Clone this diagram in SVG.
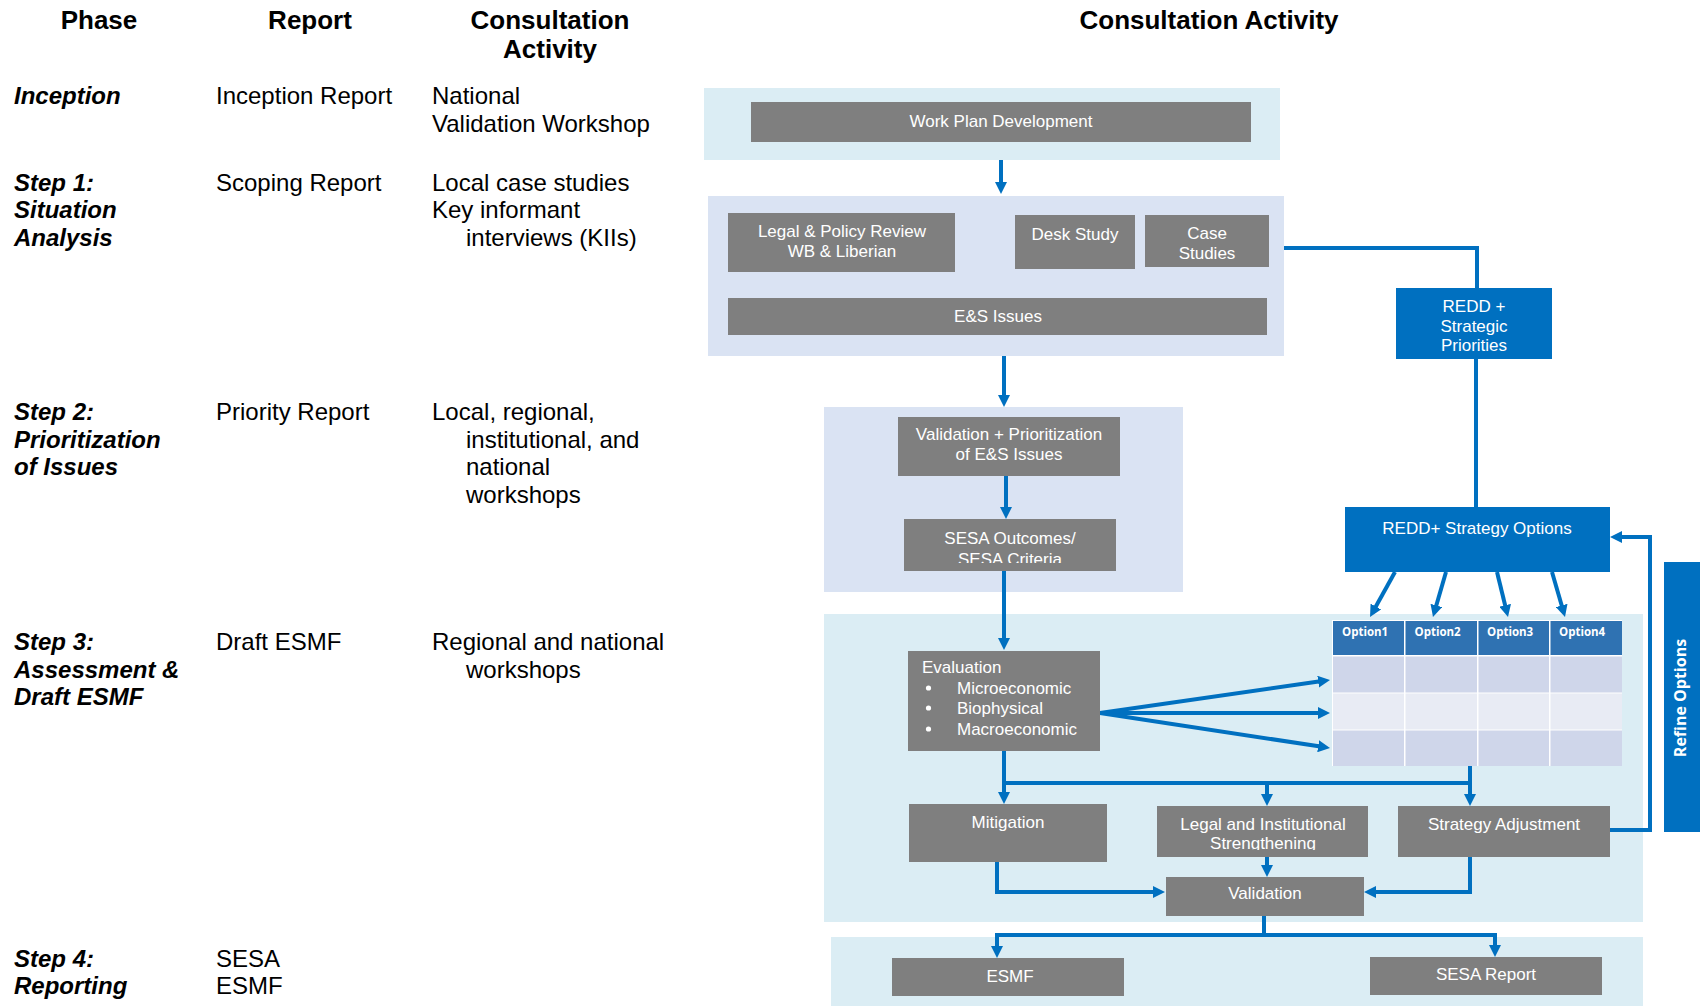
<svg xmlns="http://www.w3.org/2000/svg" width="1700" height="1006" viewBox="0 0 1700 1006">
<style>
.hd{font-family:"Liberation Sans",Arial,sans-serif;font-weight:bold;font-size:26px;fill:#000}
.ph{font-family:"Liberation Sans",Arial,sans-serif;font-weight:bold;font-style:italic;font-size:24px;fill:#000}
.tx{font-family:"Liberation Sans",Arial,sans-serif;font-size:24px;fill:#000}
.bx{fill:#7F7F7F}
.bl{fill:#0070C0}
.bt{font-family:"Liberation Sans",Arial,sans-serif;font-size:17px;fill:#fff;text-anchor:middle}
.bl-t{font-family:"Liberation Sans",Arial,sans-serif;font-size:17px;fill:#fff}
.op{font-family:"Open Sans","Liberation Sans",sans-serif;font-weight:bold;font-size:11.5px;fill:#fff}
.ln{fill:none;stroke:#0070C0;stroke-width:4}
.ar{fill:none;stroke:#0070C0;stroke-width:4;marker-end:url(#ah)}
.bandA{fill:#DBEDF4}
.bandB{fill:#DAE3F3}
.hdr{fill:#2F72B2}
.r1{fill:#CFD6EA}
.r2{fill:#E8EBF4}
</style>
<defs>
<marker id="ah" markerWidth="12" markerHeight="12" refX="4" refY="6" orient="auto" markerUnits="userSpaceOnUse">
<path d="M0,0 L12,6 L0,12 Z" fill="#0070C0"/>
</marker>
<clipPath id="clipSesa"><rect x="904" y="519" width="212" height="44"/></clipPath>
<clipPath id="clipLegal"><rect x="1157" y="806" width="211" height="44"/></clipPath>
</defs>
<rect width="1700" height="1006" fill="#fff"/>

<g id="headers">
<text class="hd" x="99" y="29" text-anchor="middle">Phase</text>
<text class="hd" x="310" y="29" text-anchor="middle">Report</text>
<text class="hd" x="550" y="29" text-anchor="middle">Consultation</text>
<text class="hd" x="550" y="58" text-anchor="middle">Activity</text>
<text class="hd" x="1209" y="29" text-anchor="middle">Consultation Activity</text>
</g>

<g id="row-inception">
<text class="ph" x="14" y="104">Inception</text>
<text class="tx" x="216" y="104">Inception Report</text>
<text class="tx" x="432" y="104">National</text>
<text class="tx" x="432" y="131.5">Validation Workshop</text>
</g>
<g id="row-step1">
<text class="ph" x="14" y="190.5">Step 1:</text>
<text class="ph" x="14" y="218">Situation</text>
<text class="ph" x="14" y="245.5">Analysis</text>
<text class="tx" x="216" y="190.5">Scoping Report</text>
<text class="tx" x="432" y="190.5">Local case studies</text>
<text class="tx" x="432" y="218">Key informant</text>
<text class="tx" x="466" y="245.5">interviews (KIIs)</text>
</g>
<g id="row-step2">
<text class="ph" x="14" y="420">Step 2:</text>
<text class="ph" x="14" y="447.5">Prioritization</text>
<text class="ph" x="14" y="475">of Issues</text>
<text class="tx" x="216" y="420">Priority Report</text>
<text class="tx" x="432" y="420">Local, regional,</text>
<text class="tx" x="466" y="447.5">institutional, and</text>
<text class="tx" x="466" y="475">national</text>
<text class="tx" x="466" y="502.5">workshops</text>
</g>
<g id="row-step3">
<text class="ph" x="14" y="650">Step 3:</text>
<text class="ph" x="14" y="677.5">Assessment &amp;</text>
<text class="ph" x="14" y="705">Draft ESMF</text>
<text class="tx" x="216" y="650">Draft ESMF</text>
<text class="tx" x="432" y="650">Regional and national</text>
<text class="tx" x="466" y="677.5">workshops</text>
</g>
<g id="row-step4">
<text class="ph" x="14" y="966.5">Step 4:</text>
<text class="ph" x="14" y="994">Reporting</text>
<text class="tx" x="216" y="966.5">SESA</text>
<text class="tx" x="216" y="994">ESMF</text>
</g>

<g id="bands">
<rect class="bandA" x="704" y="88" width="576" height="72"/>
<rect class="bandB" x="708" y="196" width="576" height="160"/>
<rect class="bandB" x="824" y="407" width="359" height="185"/>
<rect class="bandA" x="824" y="614" width="819" height="308"/>
<rect class="bandA" x="831" y="937" width="812" height="69"/>
</g>

<g id="refine-options">
<rect class="bl" x="1664" y="562" width="36" height="270"/>
<text transform="translate(1686,698) rotate(-90)" text-anchor="middle" font-family="'Open Sans','Liberation Sans',sans-serif" font-weight="bold" font-size="16" fill="#fff">Refine Options</text>
</g>

<g id="connectors">
<path class="ar" d="M1001,160 V186"/>
<path class="ln" d="M1284,248 H1477 V288"/>
<path class="ar" d="M1004,356 V399"/>
<path class="ar" d="M1006,476 V511"/>
<path class="ar" d="M1004,571 V642"/>
<path class="ln" d="M1476,359 V507"/>
<path class="ar" d="M1395,572 L1373.9,610"/>
<path class="ar" d="M1446,572 L1435.2,609.3"/>
<path class="ar" d="M1497,572 L1506.1,609.2"/>
<path class="ar" d="M1552,572 L1562.8,609.3"/>
<path class="ar" d="M1100,713 L1322.1,681.1"/>
<path class="ar" d="M1100,713 L1322,713"/>
<path class="ar" d="M1100,713 L1322.1,746.8"/>
<path class="ar" d="M1004,751 V796"/>
<path class="ln" d="M1002,783 H1472"/>
<path class="ar" d="M1267,783 V798"/>
<path class="ar" d="M1470,766 V798"/>
<path class="ar" d="M1267,857 V869"/>
<path class="ar" d="M997,862 V892 H1157"/>
<path class="ar" d="M1470,857 V892 H1372"/>
<path class="ar" d="M1610,830 H1650 V537 H1618"/>
<path class="ln" d="M1264,916 V935"/>
<path class="ln" d="M995,935 H1497"/>
<path class="ar" d="M997,933 V950"/>
<path class="ar" d="M1495,933 V949"/>
</g>

<g id="node-workplan">
<rect class="bx" x="751" y="102" width="500" height="40"/>
<text class="bt" x="1001" y="127">Work Plan Development</text>
</g>
<g id="node-legal-policy">
<rect class="bx" x="728" y="213" width="227" height="59"/>
<text class="bt" x="842" y="237">Legal &amp; Policy Review</text>
<text class="bt" x="842" y="257">WB &amp; Liberian</text>
</g>
<g id="node-desk-study">
<rect class="bx" x="1015" y="215" width="120" height="54"/>
<text class="bt" x="1075" y="240">Desk Study</text>
</g>
<g id="node-case-studies">
<rect class="bx" x="1145" y="215" width="124" height="52"/>
<text class="bt" x="1207" y="239">Case</text>
<text class="bt" x="1207" y="259">Studies</text>
</g>
<g id="node-es-issues">
<rect class="bx" x="728" y="298" width="539" height="37"/>
<text class="bt" x="998" y="322">E&amp;S Issues</text>
</g>
<g id="node-redd-priorities">
<rect class="bl" x="1396" y="288" width="156" height="71"/>
<text class="bt" x="1474" y="312">REDD +</text>
<text class="bt" x="1474" y="331.5">Strategic</text>
<text class="bt" x="1474" y="351">Priorities</text>
</g>
<g id="node-validation-prioritization">
<rect class="bx" x="898" y="417" width="222" height="59"/>
<text class="bt" x="1009" y="440">Validation + Prioritization</text>
<text class="bt" x="1009" y="460">of E&amp;S Issues</text>
</g>
<g id="node-sesa-outcomes">
<rect class="bx" x="904" y="519" width="212" height="52"/>
<text class="bt" x="1010" y="544">SESA Outcomes/</text>
<text class="bt" x="1010" y="564.5" clip-path="url(#clipSesa)">SESA Criteria</text>
</g>
<g id="node-strategy-options">
<rect class="bl" x="1345" y="507" width="265" height="65"/>
<text class="bt" x="1477" y="534">REDD+ Strategy Options</text>
</g>
<g id="node-options-table">
<rect x="1332" y="620" width="290" height="146" fill="#fff"/>
<rect class="hdr" x="1333" y="621" width="71" height="34"/>
<rect class="hdr" x="1405.5" y="621" width="71.5" height="34"/>
<rect class="hdr" x="1478.5" y="621" width="70.5" height="34"/>
<rect class="hdr" x="1550.5" y="621" width="71.5" height="34"/>
<rect class="r1" x="1333" y="656.5" width="71" height="36"/>
<rect class="r1" x="1405.5" y="656.5" width="71.5" height="36"/>
<rect class="r1" x="1478.5" y="656.5" width="70.5" height="36"/>
<rect class="r1" x="1550.5" y="656.5" width="71.5" height="36"/>
<rect class="r2" x="1333" y="693.5" width="71" height="36"/>
<rect class="r2" x="1405.5" y="693.5" width="71.5" height="36"/>
<rect class="r2" x="1478.5" y="693.5" width="70.5" height="36"/>
<rect class="r2" x="1550.5" y="693.5" width="71.5" height="36"/>
<rect class="r1" x="1333" y="730.5" width="71" height="35.5"/>
<rect class="r1" x="1405.5" y="730.5" width="71.5" height="35.5"/>
<rect class="r1" x="1478.5" y="730.5" width="70.5" height="35.5"/>
<rect class="r1" x="1550.5" y="730.5" width="71.5" height="35.5"/>
<text class="op" x="1342" y="636">Option1</text>
<text class="op" x="1414.5" y="636">Option2</text>
<text class="op" x="1487" y="636">Option3</text>
<text class="op" x="1559" y="636">Option4</text>
</g>
<g id="node-evaluation">
<rect class="bx" x="908" y="651" width="192" height="100"/>
<text class="bl-t" x="922" y="673">Evaluation</text>
<circle cx="928.5" cy="688" r="2.6" fill="#fff"/>
<circle cx="928.5" cy="708" r="2.6" fill="#fff"/>
<circle cx="928.5" cy="729" r="2.6" fill="#fff"/>
<text class="bl-t" x="957" y="694">Microeconomic</text>
<text class="bl-t" x="957" y="714">Biophysical</text>
<text class="bl-t" x="957" y="735">Macroeconomic</text>
</g>
<g id="node-mitigation">
<rect class="bx" x="909" y="804" width="198" height="58"/>
<text class="bt" x="1008" y="828">Mitigation</text>
</g>
<g id="node-legal-institutional">
<rect class="bx" x="1157" y="806" width="211" height="51"/>
<text class="bt" x="1263" y="829.5">Legal and Institutional</text>
<text class="bt" x="1263" y="849" clip-path="url(#clipLegal)">Strengthening</text>
</g>
<g id="node-strategy-adjustment">
<rect class="bx" x="1398" y="806" width="212" height="51"/>
<text class="bt" x="1504" y="830">Strategy Adjustment</text>
</g>
<g id="node-validation">
<rect class="bx" x="1166" y="877" width="198" height="39"/>
<text class="bt" x="1265" y="899">Validation</text>
</g>
<g id="node-esmf">
<rect class="bx" x="892" y="958" width="232" height="38"/>
<text class="bt" x="1010" y="982">ESMF</text>
</g>
<g id="node-sesa-report">
<rect class="bx" x="1370" y="957" width="232" height="38"/>
<text class="bt" x="1486" y="980">SESA Report</text>
</g>
</svg>
